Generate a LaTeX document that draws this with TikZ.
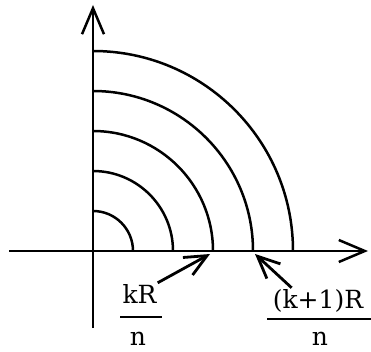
\documentclass[tikz,border=0pt]{standalone}
\usepackage{fontspec}
\setmainfont{DejaVu Serif}
\usepackage{tikz}
\usetikzlibrary{arrows.meta, calc}

\begin{document}
\begin{tikzpicture}[x=1pt,y=1pt,
  axis/.style={line width=2.5pt, -{Straight Barb[length=26pt,width=22pt]}},
  ring/.style={line width=2.5pt},
  pointer/.style={line width=2.8pt, -{Straight Barb[length=22pt,width=20pt]}},
  fracbar/.style={line width=2.5pt},
  label/.style={font=\fontsize{25}{29}\selectfont, inner sep=1pt, anchor=base}]
\useasboundingbox (0,0) rectangle (371,351);
\coordinate (O) at (93,100);
\coordinate (ybot) at (93,23);
\coordinate (ytop) at (93,346);
\coordinate (xleft) at (9,100);
\coordinate (xright) at (368,100);
\draw[axis] (ybot) -- (ytop);
\draw[axis] (xleft) -- (xright);
\foreach \k in {1,...,5}
  \draw[ring] ($(O)+(40*\k,0)$) arc[start angle=0, end angle=90, radius=40*\k];
\node[label] (numk) at (139.5,48) {kR};
\node[label] (denk) at (138,6) {n};
\node[label] (numkk) at (318,43) {(k+1)R};
\node[label] (denkk) at (320,6) {n};
\draw[fracbar] (120,34) -- (162,34);
\draw[fracbar] (267,32) -- (371,32);
\coordinate (tipk) at (210,97);
\coordinate (tipkk) at (255,97);
\draw[pointer] (numk.north east) -- (tipk);
\draw[pointer] ([xshift=20pt]numkk.north west) -- (tipkk);
\end{tikzpicture}
\end{document}
